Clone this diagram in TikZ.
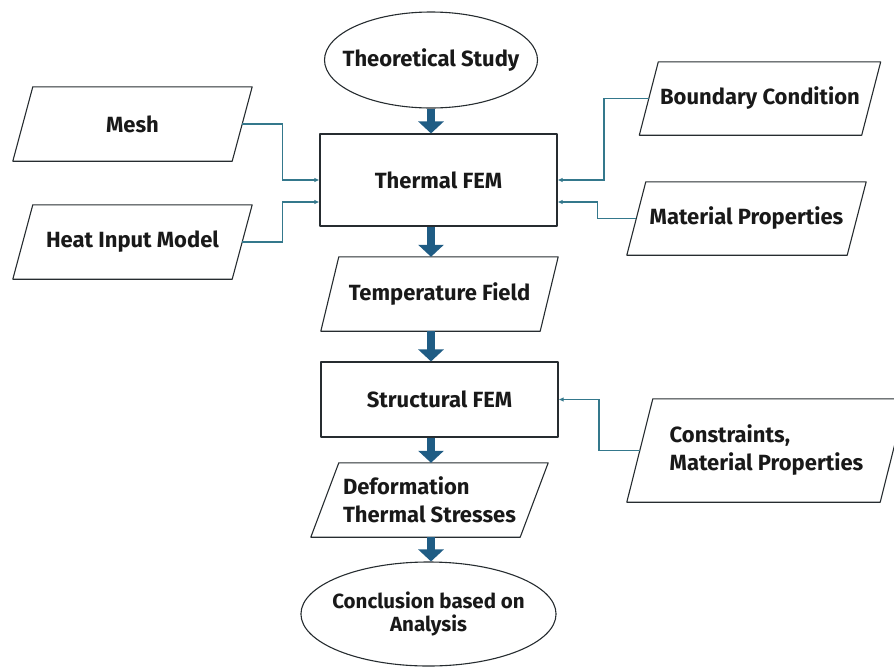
\documentclass[tikz,border=0pt]{standalone}
\usepackage{fontspec}
\setmainfont{Fira Sans}
\usetikzlibrary{shapes.geometric,arrows.meta}

\definecolor{flowblue}{RGB}{31,92,132}
\definecolor{linkteal}{RGB}{52,120,140}
\definecolor{edgegray}{RGB}{38,44,48}

\begin{document}
\begin{tikzpicture}[x=1pt,y=-1pt,
    every node/.style={font=\fontsize{22}{25}\selectfont\bfseries, text=black!90},
    outline/.style={draw=edgegray, line width=1.1pt, line join=round},
    proc/.style={outline, rectangle, minimum width=237pt},
    data/.style={rectangle, inner xsep=0pt, minimum height=74pt},
    term/.style={outline, ellipse, inner ysep=0pt},
    flow/.style={draw=flowblue, line width=8pt, -{Triangle[length=12pt,width=25pt]}},
    link/.style={draw=linkteal, line width=1.4pt, -{Latex[length=5pt,width=4.5pt]}}]

        \useasboundingbox (0,0) rectangle (894,667);

        % main column
        \node[term, inner xsep=-14pt, minimum width=213pt, minimum height=96pt] (theory) at (431,60) {Theoretical Study};
        \node[proc, minimum height=92pt] (thermal) at (438.5,180) {Thermal FEM};
        \node[data, minimum width=219pt] (temp) at (439.5,294) {Temperature Field};
        \node[proc, minimum height=75pt] (struct) at (439.5,399.5) {Structural FEM};
        \node[data, minimum width=209pt, align=left,
          font=\fontsize{22}{28}\selectfont\bfseries] (deform) at (429.5,500) {Deformation\\Thermal Stresses};
        \node[term, inner xsep=-6pt, minimum width=253pt, minimum height=104pt, align=center,
          font=\fontsize{20.5}{23.5}\selectfont\bfseries] (concl) at (428.5,614) {Conclusion based on\\Analysis};

        % inputs
        \node[data, minimum width=219pt] (mesh) at (132.5,124) {Mesh};
        \node[data, minimum width=219pt] (heat) at (132.5,242) {Heat Input Model};
        \node[data, minimum width=222pt, minimum height=73pt] (bc) at (760,98.5) {Boundary Condition};
        \node[data, minimum width=220pt, minimum height=73pt] (matprop) at (746.5,218.5) {Material Properties};
        \node[data, minimum width=253pt, minimum height=103pt, align=left,
          font=\fontsize{22}{28}\selectfont\bfseries] (cons) at (766.5,450.5) {Constraints,\\Material Properties};

        % slanted outlines of the data nodes
        \foreach \n/\s in {mesh/20, heat/20, bc/19, matprop/19, temp/18, deform/28, cons/26}{
          \draw[outline] ([xshift=-\s/2]\n.south west) -- ([xshift=\s/2]\n.north west)
            -- ([xshift=\s/2]\n.north east) -- ([xshift=-\s/2]\n.south east) -- cycle;
        }

        \draw[flow] (theory.south) -- (theory.south |- thermal.north);
        \foreach \a/\b in {thermal/temp, temp/struct, struct/deform, deform/concl}{
          \draw[flow] (\a.south -| theory.south) -- (\b.north -| theory.south);
        }

        \draw[link] (mesh.east) -- ++(40,0) |- (thermal.west);
        \draw[link] (heat.east) -- ++(40,0) |- ([yshift=-22pt]thermal.west);
        \draw[link] (bc.west) -- ++(-45,0) |- (thermal.east);
        \draw[link] (matprop.west) -- ++(-39,0) |- ([yshift=-22pt]thermal.east);
        \draw[link] (cons.west) -- ++(-41,0) |- (struct.east);
      \end{tikzpicture}
\end{document}
